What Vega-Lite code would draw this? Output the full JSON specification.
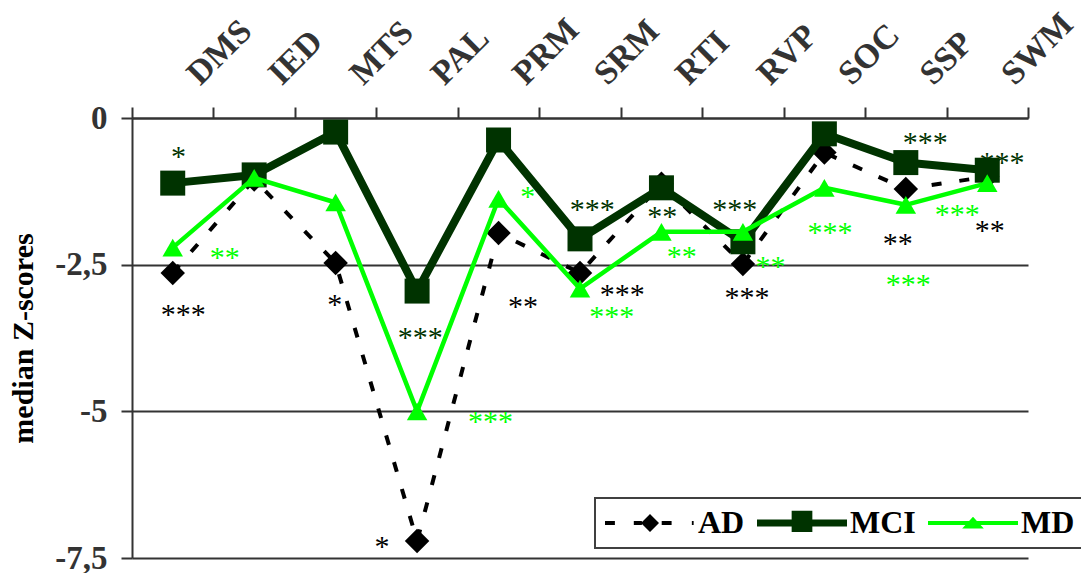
{
  "$schema": "https://vega.github.io/schema/vega-lite/v6.json",
  "width": 896,
  "height": 440,
  "autosize": "none",
  "padding": {"left": 132, "top": 118, "right": 53, "bottom": 15},
  "background": "white",
  "config": {
    "view": {"stroke": null},
    "legend": {
      "symbolSize": 900,
      "symbolStrokeWidth": 0,
      "symbolOpacity": 1,
      "labelOffset": 62,
      "columnPadding": 11,
      "padding": 9,
      "strokeColor": "#404040",
      "strokeWidth": 2,
      "fillColor": "#ffffff",
      "labelFont": "Liberation Serif",
      "labelFontWeight": "bold",
      "labelFontSize": 32,
      "labelColor": "#000000",
      "labelLimit": 300
    }
  },
  "datasets": {
    "scores": [
      {"test": "DMS", "series": "AD", "z": -2.64},
      {"test": "IED", "series": "AD", "z": -1.05},
      {"test": "MTS", "series": "AD", "z": -2.47},
      {"test": "PAL", "series": "AD", "z": -7.21},
      {"test": "PRM", "series": "AD", "z": -1.96},
      {"test": "SRM", "series": "AD", "z": -2.64},
      {"test": "RTI", "series": "AD", "z": -1.12},
      {"test": "RVP", "series": "AD", "z": -2.49},
      {"test": "SOC", "series": "AD", "z": -0.59},
      {"test": "SSP", "series": "AD", "z": -1.21},
      {"test": "SWM", "series": "AD", "z": -1.0},
      {"test": "DMS", "series": "MCI", "z": -1.11},
      {"test": "IED", "series": "MCI", "z": -0.97},
      {"test": "MTS", "series": "MCI", "z": -0.24},
      {"test": "PAL", "series": "MCI", "z": -2.95},
      {"test": "PRM", "series": "MCI", "z": -0.375},
      {"test": "SRM", "series": "MCI", "z": -2.06},
      {"test": "RTI", "series": "MCI", "z": -1.19},
      {"test": "RVP", "series": "MCI", "z": -2.11},
      {"test": "SOC", "series": "MCI", "z": -0.27},
      {"test": "SSP", "series": "MCI", "z": -0.76},
      {"test": "SWM", "series": "MCI", "z": -0.89},
      {"test": "DMS", "series": "MD", "z": -2.21},
      {"test": "IED", "series": "MD", "z": -1.02},
      {"test": "MTS", "series": "MD", "z": -1.44},
      {"test": "PAL", "series": "MD", "z": -5.0},
      {"test": "PRM", "series": "MD", "z": -1.38},
      {"test": "SRM", "series": "MD", "z": -2.91},
      {"test": "RTI", "series": "MD", "z": -1.94},
      {"test": "RVP", "series": "MD", "z": -1.94},
      {"test": "SOC", "series": "MD", "z": -1.19},
      {"test": "SSP", "series": "MD", "z": -1.48},
      {"test": "SWM", "series": "MD", "z": -1.11}
    ],
    "ann": [
      {"test": "DMS", "series": "MCI", "label": "*", "z": -0.58, "off": 0.07},
      {"test": "DMS", "series": "MD", "label": "**", "z": -2.3, "off": 0.64},
      {"test": "DMS", "series": "AD", "label": "***", "z": -3.27, "off": 0.13},
      {"test": "MTS", "series": "AD", "label": "*", "z": -3.1, "off": -0.01},
      {"test": "PAL", "series": "MCI", "label": "***", "z": -3.66, "off": 0.04},
      {"test": "PAL", "series": "MD", "label": "***", "z": -5.1, "off": 0.9},
      {"test": "PAL", "series": "AD", "label": "*", "z": -7.23, "off": -0.43},
      {"test": "PRM", "series": "MD", "label": "*", "z": -1.26, "off": 0.36},
      {"test": "PRM", "series": "AD", "label": "**", "z": -3.14, "off": 0.3},
      {"test": "SRM", "series": "MCI", "label": "***", "z": -1.48, "off": 0.15},
      {"test": "SRM", "series": "AD", "label": "***", "z": -2.93, "off": 0.52},
      {"test": "SRM", "series": "MD", "label": "***", "z": -3.31, "off": 0.39},
      {"test": "RTI", "series": "MCI", "label": "**", "z": -1.6, "off": 0.01},
      {"test": "RTI", "series": "MD", "label": "**", "z": -2.28, "off": 0.25},
      {"test": "RVP", "series": "MCI", "label": "***", "z": -1.48, "off": -0.1},
      {"test": "RVP", "series": "MD", "label": "**", "z": -2.45, "off": 0.34},
      {"test": "RVP", "series": "AD", "label": "***", "z": -2.98, "off": 0.05},
      {"test": "SOC", "series": "MD", "label": "***", "z": -1.87, "off": 0.07},
      {"test": "SSP", "series": "MCI", "label": "***", "z": -0.34, "off": 0.24},
      {"test": "SSP", "series": "AD", "label": "**", "z": -2.06, "off": -0.1},
      {"test": "SSP", "series": "MD", "label": "***", "z": -2.76, "off": 0.03},
      {"test": "SWM", "series": "MCI", "label": "***", "z": -0.68, "off": 0.18},
      {"test": "SWM", "series": "MD", "label": "***", "z": -1.57, "off": -0.37},
      {"test": "SWM", "series": "AD", "label": "**", "z": -1.84, "off": 0.03}
    ]
  },
  "data": {"name": "scores"},
  "encoding": {
    "x": {
      "field": "test",
      "type": "nominal",
      "sort": ["DMS", "IED", "MTS", "PAL", "PRM", "SRM", "RTI", "RVP", "SOC", "SSP", "SWM"],
      "scale": {"type": "band", "paddingInner": 0, "paddingOuter": 0},
      "axis": {
        "orient": "top",
        "title": null,
        "tickBand": "extent",
        "grid": false,
        "labelAngle": -45,
        "labelAlign": "left",
        "labelBaseline": "alphabetic",
        "labelOffset": 27,
        "labelPadding": 21,
        "labelFont": "Liberation Serif",
        "labelFontWeight": "bold",
        "labelFontSize": 34,
        "labelColor": "#333333",
        "tickSize": 11,
        "tickColor": "#333333",
        "tickWidth": 2,
        "domainColor": "#333333",
        "domainWidth": 2
      }
    },
    "y": {
      "field": "z",
      "type": "quantitative",
      "scale": {"domain": [-7.5, 0], "nice": false, "zero": false},
      "axis": {
        "title": "median Z-scores",
        "titleFont": "Liberation Serif",
        "titleFontWeight": "bold",
        "titleFontSize": 30,
        "titleColor": "#000000",
        "titleX": -100,
        "titleBaseline": "alphabetic",
        "values": [0, -2.5, -5, -7.5],
        "labelExpr": "replace(datum.value + '', '.', ',')",
        "labelFont": "Liberation Serif",
        "labelFontWeight": "bold",
        "labelFontSize": 33,
        "labelColor": "#333333",
        "labelPadding": 14,
        "tickSize": 11,
        "tickColor": "#333333",
        "tickWidth": 2,
        "domainColor": "#333333",
        "domainWidth": 2,
        "grid": true,
        "gridColor": "#333333",
        "gridWidth": 2
      }
    }
  },
  "layer": [
    {
      "transform": [{"filter": "datum.series === 'AD'"}],
      "mark": {"type": "line", "color": "#000000", "strokeWidth": 4, "strokeDash": [10, 18]}
    },
    {
      "transform": [{"filter": "datum.series === 'AD'"}],
      "mark": {"type": "point", "shape": "diamond", "size": 600, "filled": true, "color": "#000000", "opacity": 1}
    },
    {
      "transform": [{"filter": "datum.series === 'MCI'"}],
      "mark": {"type": "line", "color": "#003300", "strokeWidth": 8, "strokeJoin": "round"}
    },
    {
      "transform": [{"filter": "datum.series === 'MCI'"}],
      "mark": {"type": "point", "shape": "square", "size": 625, "filled": true, "color": "#003300", "opacity": 1}
    },
    {
      "transform": [{"filter": "datum.series === 'MD'"}],
      "mark": {"type": "line", "color": "#00ff00", "strokeWidth": 4.5, "strokeJoin": "round"}
    },
    {
      "transform": [{"filter": "datum.series === 'MD'"}],
      "mark": {"type": "point", "shape": "triangle-up", "size": 420, "filled": true, "color": "#00ff00", "opacity": 1}
    },
    {
      "data": {"name": "ann"},
      "mark": {"type": "text", "font": "Liberation Serif", "fontSize": 30, "baseline": "alphabetic", "dy": 14, "align": "center"},
      "encoding": {
        "text": {"field": "label", "type": "nominal"},
        "xOffset": {"field": "off", "type": "quantitative", "scale": {"domain": [-0.5, 0.5], "nice": false, "zero": false}},
        "color": {
          "field": "series",
          "type": "nominal",
          "scale": {"domain": ["MD", "MCI", "AD"], "range": ["#00ff00", "#003300", "#000000"]},
          "legend": null
        }
      }
    },
    {
      "mark": {"type": "point", "filled": true, "opacity": 0},
      "encoding": {
        "shape": {
          "field": "series",
          "type": "nominal",
          "scale": {
            "domain": ["AD", "MCI", "MD"],
            "range": [
              "M-1,-0.135H-0.34V0.135H-1Z M0.92,-0.135H1.46V0.135H0.92Z M2,-0.6L2.6,0L2,0.6L1.4,0Z M2.78,-0.135H3.44V0.135H2.78Z M4.79,-0.135H4.91V0.135H4.79Z",
              "M-1,-0.24H5V0.24H-1Z M1.31,-0.81H2.69V0.6H1.31Z",
              "M-1,-0.135H5V0.135H-1Z M2,-0.42L2.72,0.36H1.28Z"
            ]
          },
          "legend": {"title": null, "orient": "none", "legendX": 463, "legendY": 380, "direction": "horizontal"}
        },
        "fill": {
          "field": "series",
          "type": "nominal",
          "scale": {"domain": ["AD", "MCI", "MD"], "range": ["#000000", "#003300", "#00ff00"]},
          "legend": {"title": null, "orient": "none", "legendX": 463, "legendY": 380, "direction": "horizontal"}
        }
      }
    }
  ]
}
